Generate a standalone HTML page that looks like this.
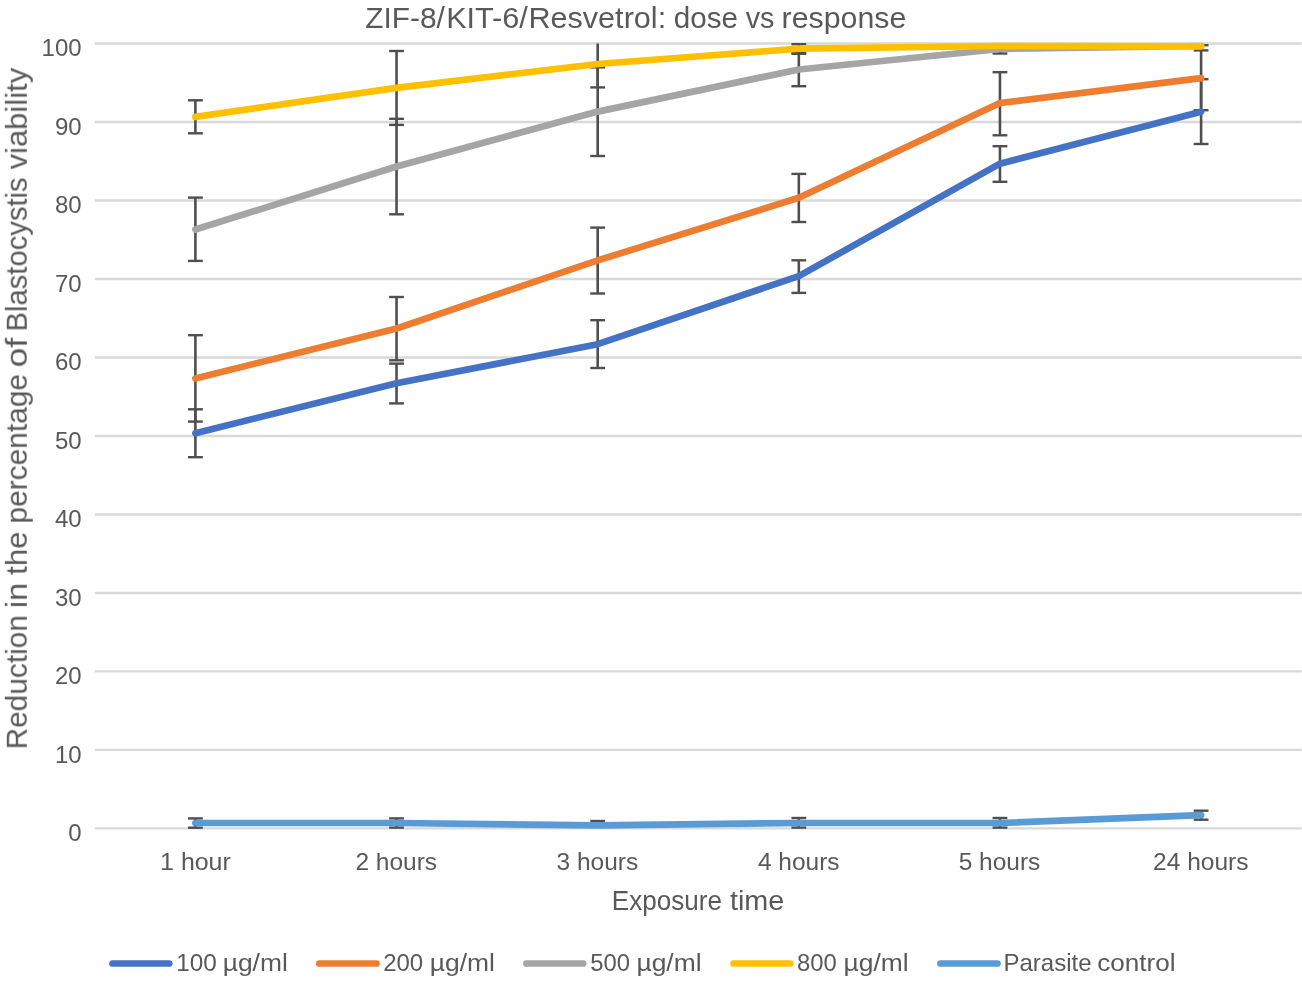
<!DOCTYPE html>
<html><head><meta charset="utf-8"><style>
html,body{margin:0;padding:0;background:#fff;}
body{width:1302px;height:987px;overflow:hidden;}
svg{display:block;}
text{will-change:transform;}
.t{}
text{font-family:"Liberation Sans",sans-serif;fill:#595959;}
</style></head><body>
<svg width="1302" height="987" viewBox="0 0 1302 987">
<rect width="1302" height="987" fill="#fff"/>
<line x1="94.8" y1="828.40" x2="1301.7" y2="828.40" stroke="#d9d9d9" stroke-width="2.4"/>
<line x1="94.8" y1="749.91" x2="1301.7" y2="749.91" stroke="#d9d9d9" stroke-width="2.4"/>
<line x1="94.8" y1="671.42" x2="1301.7" y2="671.42" stroke="#d9d9d9" stroke-width="2.4"/>
<line x1="94.8" y1="592.93" x2="1301.7" y2="592.93" stroke="#d9d9d9" stroke-width="2.4"/>
<line x1="94.8" y1="514.44" x2="1301.7" y2="514.44" stroke="#d9d9d9" stroke-width="2.4"/>
<line x1="94.8" y1="435.95" x2="1301.7" y2="435.95" stroke="#d9d9d9" stroke-width="2.4"/>
<line x1="94.8" y1="357.46" x2="1301.7" y2="357.46" stroke="#d9d9d9" stroke-width="2.4"/>
<line x1="94.8" y1="278.97" x2="1301.7" y2="278.97" stroke="#d9d9d9" stroke-width="2.4"/>
<line x1="94.8" y1="200.48" x2="1301.7" y2="200.48" stroke="#d9d9d9" stroke-width="2.4"/>
<line x1="94.8" y1="121.99" x2="1301.7" y2="121.99" stroke="#d9d9d9" stroke-width="2.4"/>
<line x1="94.8" y1="43.50" x2="1301.7" y2="43.50" stroke="#d9d9d9" stroke-width="2.4"/>
<line x1="195.40" y1="409.30" x2="195.40" y2="457.20" stroke="#4f4f4f" stroke-width="2.6"/><line x1="188.00" y1="409.30" x2="202.80" y2="409.30" stroke="#4f4f4f" stroke-width="2.4"/><line x1="188.00" y1="457.20" x2="202.80" y2="457.20" stroke="#4f4f4f" stroke-width="2.4"/>
<line x1="396.54" y1="363.60" x2="396.54" y2="403.40" stroke="#4f4f4f" stroke-width="2.6"/><line x1="389.14" y1="363.60" x2="403.94" y2="363.60" stroke="#4f4f4f" stroke-width="2.4"/><line x1="389.14" y1="403.40" x2="403.94" y2="403.40" stroke="#4f4f4f" stroke-width="2.4"/>
<line x1="597.68" y1="320.20" x2="597.68" y2="368.00" stroke="#4f4f4f" stroke-width="2.6"/><line x1="590.28" y1="320.20" x2="605.08" y2="320.20" stroke="#4f4f4f" stroke-width="2.4"/><line x1="590.28" y1="368.00" x2="605.08" y2="368.00" stroke="#4f4f4f" stroke-width="2.4"/>
<line x1="798.82" y1="260.30" x2="798.82" y2="292.90" stroke="#4f4f4f" stroke-width="2.6"/><line x1="791.42" y1="260.30" x2="806.22" y2="260.30" stroke="#4f4f4f" stroke-width="2.4"/><line x1="791.42" y1="292.90" x2="806.22" y2="292.90" stroke="#4f4f4f" stroke-width="2.4"/>
<line x1="999.96" y1="146.20" x2="999.96" y2="181.80" stroke="#4f4f4f" stroke-width="2.6"/><line x1="992.56" y1="146.20" x2="1007.36" y2="146.20" stroke="#4f4f4f" stroke-width="2.4"/><line x1="992.56" y1="181.80" x2="1007.36" y2="181.80" stroke="#4f4f4f" stroke-width="2.4"/>
<line x1="1201.10" y1="79.20" x2="1201.10" y2="144.00" stroke="#4f4f4f" stroke-width="2.6"/><line x1="1193.70" y1="79.20" x2="1208.50" y2="79.20" stroke="#4f4f4f" stroke-width="2.4"/><line x1="1193.70" y1="144.00" x2="1208.50" y2="144.00" stroke="#4f4f4f" stroke-width="2.4"/>
<line x1="195.40" y1="335.20" x2="195.40" y2="421.60" stroke="#4f4f4f" stroke-width="2.6"/><line x1="188.00" y1="335.20" x2="202.80" y2="335.20" stroke="#4f4f4f" stroke-width="2.4"/><line x1="188.00" y1="421.60" x2="202.80" y2="421.60" stroke="#4f4f4f" stroke-width="2.4"/>
<line x1="396.54" y1="297.00" x2="396.54" y2="360.30" stroke="#4f4f4f" stroke-width="2.6"/><line x1="389.14" y1="297.00" x2="403.94" y2="297.00" stroke="#4f4f4f" stroke-width="2.4"/><line x1="389.14" y1="360.30" x2="403.94" y2="360.30" stroke="#4f4f4f" stroke-width="2.4"/>
<line x1="597.68" y1="227.60" x2="597.68" y2="293.50" stroke="#4f4f4f" stroke-width="2.6"/><line x1="590.28" y1="227.60" x2="605.08" y2="227.60" stroke="#4f4f4f" stroke-width="2.4"/><line x1="590.28" y1="293.50" x2="605.08" y2="293.50" stroke="#4f4f4f" stroke-width="2.4"/>
<line x1="798.82" y1="173.90" x2="798.82" y2="222.00" stroke="#4f4f4f" stroke-width="2.6"/><line x1="791.42" y1="173.90" x2="806.22" y2="173.90" stroke="#4f4f4f" stroke-width="2.4"/><line x1="791.42" y1="222.00" x2="806.22" y2="222.00" stroke="#4f4f4f" stroke-width="2.4"/>
<line x1="999.96" y1="72.20" x2="999.96" y2="135.30" stroke="#4f4f4f" stroke-width="2.6"/><line x1="992.56" y1="72.20" x2="1007.36" y2="72.20" stroke="#4f4f4f" stroke-width="2.4"/><line x1="992.56" y1="135.30" x2="1007.36" y2="135.30" stroke="#4f4f4f" stroke-width="2.4"/>
<line x1="1201.10" y1="45.20" x2="1201.10" y2="110.20" stroke="#4f4f4f" stroke-width="2.6"/><line x1="1193.70" y1="45.20" x2="1208.50" y2="45.20" stroke="#4f4f4f" stroke-width="2.4"/><line x1="1193.70" y1="110.20" x2="1208.50" y2="110.20" stroke="#4f4f4f" stroke-width="2.4"/>
<line x1="195.40" y1="197.60" x2="195.40" y2="260.90" stroke="#4f4f4f" stroke-width="2.6"/><line x1="188.00" y1="197.60" x2="202.80" y2="197.60" stroke="#4f4f4f" stroke-width="2.4"/><line x1="188.00" y1="260.90" x2="202.80" y2="260.90" stroke="#4f4f4f" stroke-width="2.4"/>
<line x1="396.54" y1="118.80" x2="396.54" y2="214.30" stroke="#4f4f4f" stroke-width="2.6"/><line x1="389.14" y1="118.80" x2="403.94" y2="118.80" stroke="#4f4f4f" stroke-width="2.4"/><line x1="389.14" y1="214.30" x2="403.94" y2="214.30" stroke="#4f4f4f" stroke-width="2.4"/>
<line x1="597.68" y1="67.40" x2="597.68" y2="156.00" stroke="#4f4f4f" stroke-width="2.6"/><line x1="590.28" y1="67.40" x2="605.08" y2="67.40" stroke="#4f4f4f" stroke-width="2.4"/><line x1="590.28" y1="156.00" x2="605.08" y2="156.00" stroke="#4f4f4f" stroke-width="2.4"/>
<line x1="798.82" y1="52.80" x2="798.82" y2="86.20" stroke="#4f4f4f" stroke-width="2.6"/><line x1="791.42" y1="52.80" x2="806.22" y2="52.80" stroke="#4f4f4f" stroke-width="2.4"/><line x1="791.42" y1="86.20" x2="806.22" y2="86.20" stroke="#4f4f4f" stroke-width="2.4"/>
<line x1="999.96" y1="44.50" x2="999.96" y2="53.50" stroke="#4f4f4f" stroke-width="2.6"/><line x1="992.56" y1="53.50" x2="1007.36" y2="53.50" stroke="#4f4f4f" stroke-width="2.4"/>
<line x1="1201.10" y1="43.50" x2="1201.10" y2="50.40" stroke="#4f4f4f" stroke-width="2.6"/><line x1="1193.70" y1="50.40" x2="1208.50" y2="50.40" stroke="#4f4f4f" stroke-width="2.4"/>
<line x1="195.40" y1="100.30" x2="195.40" y2="133.30" stroke="#4f4f4f" stroke-width="2.6"/><line x1="188.00" y1="100.30" x2="202.80" y2="100.30" stroke="#4f4f4f" stroke-width="2.4"/><line x1="188.00" y1="133.30" x2="202.80" y2="133.30" stroke="#4f4f4f" stroke-width="2.4"/>
<line x1="396.54" y1="51.00" x2="396.54" y2="124.90" stroke="#4f4f4f" stroke-width="2.6"/><line x1="389.14" y1="51.00" x2="403.94" y2="51.00" stroke="#4f4f4f" stroke-width="2.4"/><line x1="389.14" y1="124.90" x2="403.94" y2="124.90" stroke="#4f4f4f" stroke-width="2.4"/>
<line x1="597.68" y1="43.50" x2="597.68" y2="87.40" stroke="#4f4f4f" stroke-width="2.6"/><line x1="590.28" y1="87.40" x2="605.08" y2="87.40" stroke="#4f4f4f" stroke-width="2.4"/>
<line x1="798.82" y1="44.20" x2="798.82" y2="53.80" stroke="#4f4f4f" stroke-width="2.6"/><line x1="791.42" y1="44.20" x2="806.22" y2="44.20" stroke="#4f4f4f" stroke-width="2.4"/><line x1="791.42" y1="53.80" x2="806.22" y2="53.80" stroke="#4f4f4f" stroke-width="2.4"/>
<line x1="195.40" y1="818.40" x2="195.40" y2="827.70" stroke="#4f4f4f" stroke-width="2.6"/><line x1="188.00" y1="818.40" x2="202.80" y2="818.40" stroke="#4f4f4f" stroke-width="2.4"/><line x1="188.00" y1="827.70" x2="202.80" y2="827.70" stroke="#4f4f4f" stroke-width="2.4"/>
<line x1="396.54" y1="818.40" x2="396.54" y2="827.60" stroke="#4f4f4f" stroke-width="2.6"/><line x1="389.14" y1="818.40" x2="403.94" y2="818.40" stroke="#4f4f4f" stroke-width="2.4"/><line x1="389.14" y1="827.60" x2="403.94" y2="827.60" stroke="#4f4f4f" stroke-width="2.4"/>
<line x1="597.68" y1="821.00" x2="597.68" y2="825.30" stroke="#4f4f4f" stroke-width="2.6"/><line x1="590.28" y1="821.00" x2="605.08" y2="821.00" stroke="#4f4f4f" stroke-width="2.4"/>
<line x1="798.82" y1="818.00" x2="798.82" y2="827.60" stroke="#4f4f4f" stroke-width="2.6"/><line x1="791.42" y1="818.00" x2="806.22" y2="818.00" stroke="#4f4f4f" stroke-width="2.4"/><line x1="791.42" y1="827.60" x2="806.22" y2="827.60" stroke="#4f4f4f" stroke-width="2.4"/>
<line x1="999.96" y1="818.00" x2="999.96" y2="827.60" stroke="#4f4f4f" stroke-width="2.6"/><line x1="992.56" y1="818.00" x2="1007.36" y2="818.00" stroke="#4f4f4f" stroke-width="2.4"/><line x1="992.56" y1="827.60" x2="1007.36" y2="827.60" stroke="#4f4f4f" stroke-width="2.4"/>
<line x1="1201.10" y1="810.70" x2="1201.10" y2="819.70" stroke="#4f4f4f" stroke-width="2.6"/><line x1="1193.70" y1="810.70" x2="1208.50" y2="810.70" stroke="#4f4f4f" stroke-width="2.4"/><line x1="1193.70" y1="819.70" x2="1208.50" y2="819.70" stroke="#4f4f4f" stroke-width="2.4"/>
<polyline points="195.40,433.20 396.54,383.30 597.68,344.20 798.82,276.10 999.96,163.70 1201.10,111.70" fill="none" stroke="#4472C4" stroke-width="6.7" stroke-linecap="round" stroke-linejoin="round"/>
<polyline points="195.40,378.40 396.54,328.50 597.68,260.40 798.82,197.80 999.96,103.00 1201.10,78.10" fill="none" stroke="#ED7D31" stroke-width="6.7" stroke-linecap="round" stroke-linejoin="round"/>
<polyline points="195.40,229.50 396.54,166.50 597.68,111.60 798.82,69.50 999.96,49.00 1201.10,46.00" fill="none" stroke="#A5A5A5" stroke-width="6.7" stroke-linecap="round" stroke-linejoin="round"/>
<polyline points="195.40,116.90 396.54,87.90 597.68,64.00 798.82,48.70 999.96,46.00 1201.10,46.30" fill="none" stroke="#FFC000" stroke-width="6.7" stroke-linecap="round" stroke-linejoin="round"/>
<polyline points="195.40,823.00 396.54,823.00 597.68,825.40 798.82,823.00 999.96,823.00 1201.10,815.20" fill="none" stroke="#5B9BD5" stroke-width="6.7" stroke-linecap="round" stroke-linejoin="round"/>
<text x="81.6" y="841.10" font-size="24" text-anchor="end">0</text>
<text x="81.6" y="762.61" font-size="24" text-anchor="end">10</text>
<text x="81.6" y="684.12" font-size="24" text-anchor="end">20</text>
<text x="81.6" y="605.63" font-size="24" text-anchor="end">30</text>
<text x="81.6" y="527.14" font-size="24" text-anchor="end">40</text>
<text x="81.6" y="448.65" font-size="24" text-anchor="end">50</text>
<text x="81.6" y="370.16" font-size="24" text-anchor="end">60</text>
<text x="81.6" y="291.67" font-size="24" text-anchor="end">70</text>
<text x="81.6" y="213.18" font-size="24" text-anchor="end">80</text>
<text x="81.6" y="134.69" font-size="24" text-anchor="end">90</text>
<text x="81.6" y="56.20" font-size="24" text-anchor="end">100</text>
<text id="t1" transform="translate(365.22,27.80) scale(0.9825,1)" font-size="30.4">ZIF-8/</text>
<text id="t2" transform="translate(446.18,27.80) scale(1.0076,1)" font-size="30.4">KIT-6/</text>
<text id="t3" transform="translate(528.38,27.80) scale(1.0068,1)" font-size="30.4">Resvetrol:</text>
<text id="t4" transform="translate(673.78,27.80) scale(0.9755,1)" font-size="30.4">dose</text>
<text id="t5" transform="translate(745.66,27.80) scale(0.9448,1)" font-size="30.4">vs</text>
<text id="t6" transform="translate(781.60,27.80) scale(0.9979,1)" font-size="30.4">response</text>
<text id="xt1" transform="translate(611.83,909.90) scale(0.9661,1)" font-size="27.0">Exposure</text>
<text id="xt2" transform="translate(729.93,909.90) scale(1.0667,1)" font-size="27.0">time</text>
<text id="yt1" transform="translate(26.80,749.38) rotate(-90) scale(0.9908,1)" font-size="30.1">Reduction</text>
<text id="yt2" transform="translate(26.80,608.16) rotate(-90) scale(1.0821,1)" font-size="30.1">in</text>
<text id="yt3" transform="translate(26.80,574.82) rotate(-90) scale(1.0350,1)" font-size="30.1">the</text>
<text id="yt4" transform="translate(26.80,523.59) rotate(-90) scale(0.9942,1)" font-size="30.1">percentage</text>
<text id="yt5" transform="translate(26.80,367.48) rotate(-90) scale(1.1833,1)" font-size="30.1">of</text>
<text id="yt6" transform="translate(26.80,331.53) rotate(-90) scale(0.9707,1)" font-size="30.1">Blastocystis</text>
<text id="yt7" transform="translate(26.80,169.46) rotate(-90) scale(1.0300,1)" font-size="30.1">viability</text>
<text id="l1a" transform="translate(176.20,971.00) scale(1.0313,1)" font-size="23.6">100</text>
<text id="l1b" transform="translate(222.72,971.00) scale(1.1186,1)" font-size="23.6">µg/ml</text>
<text id="l2a" transform="translate(383.13,971.00) scale(1.0174,1)" font-size="23.6">200</text>
<text id="l2b" transform="translate(429.72,971.00) scale(1.1204,1)" font-size="23.6">µg/ml</text>
<text id="l3a" transform="translate(590.19,971.00) scale(1.0107,1)" font-size="23.6">500</text>
<text id="l3b" transform="translate(636.42,971.00) scale(1.1204,1)" font-size="23.6">µg/ml</text>
<text id="l4a" transform="translate(797.09,971.00) scale(1.0107,1)" font-size="23.6">800</text>
<text id="l4b" transform="translate(843.52,971.00) scale(1.1204,1)" font-size="23.6">µg/ml</text>
<text id="l5a" transform="translate(1003.46,971.00) scale(1.0192,1)" font-size="23.6">Parasite</text>
<text id="l5b" transform="translate(1097.29,971.00) scale(1.1062,1)" font-size="23.6">control</text>
<text id="x1" transform="translate(160.08,870.00) scale(1.0394,1)" font-size="24">1 hour</text>
<text id="x2" transform="translate(355.42,870.00) scale(1.0205,1)" font-size="24">2 hours</text>
<text id="x3" transform="translate(556.48,870.00) scale(1.0211,1)" font-size="24">3 hours</text>
<text id="x6" transform="translate(1153.02,870.00) scale(1.0236,1)" font-size="24">24 hours</text>
<text id="x4" transform="translate(757.89,870.00) scale(1.0210,1)" font-size="24">4 hours</text>
<text id="x5" transform="translate(958.68,870.00) scale(1.0198,1)" font-size="24">5 hours</text>
<line x1="112.50" y1="963.5" x2="169.20" y2="963.5" stroke="#4472C4" stroke-width="6.7" stroke-linecap="round"/>
<line x1="319.30" y1="963.5" x2="376.50" y2="963.5" stroke="#ED7D31" stroke-width="6.7" stroke-linecap="round"/>
<line x1="526.40" y1="963.5" x2="583.20" y2="963.5" stroke="#A5A5A5" stroke-width="6.7" stroke-linecap="round"/>
<line x1="733.50" y1="963.5" x2="790.30" y2="963.5" stroke="#FFC000" stroke-width="6.7" stroke-linecap="round"/>
<line x1="940.40" y1="963.5" x2="997.50" y2="963.5" stroke="#5B9BD5" stroke-width="6.7" stroke-linecap="round"/>
</svg></body></html>
